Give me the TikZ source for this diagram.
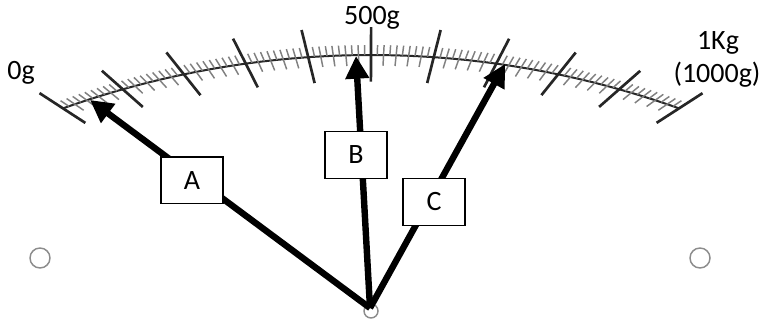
\documentclass[tikz,border=0pt]{standalone}
\usepackage{fontspec}
\setmainfont{Carlito}
\usetikzlibrary{calc,arrows.meta}
\begin{document}
\begin{tikzpicture}[x=0.75pt,y=-0.75pt,
  lbl/.style={font=\fontsize{21}{24}\selectfont, inner sep=0pt, anchor=base},
  box/.style={draw=black, line width=1pt, fill=white, minimum width=46.5pt, minimum height=35pt, inner sep=0pt, font=\fontsize{21}{24}\selectfont},
  pointer/.style={line width=4.8pt, -{Triangle[length=17pt,width=17pt]}},
  major/.style={line width=2pt, draw=black!85},
  minor/.style={line width=1.1pt, draw=black!50},
  hole/.style={draw=black!45, line width=1.1pt}]
\useasboundingbox (0,0) rectangle (768,320);
\coordinate (O) at (370,308);
% scale arc
\draw[line width=1.5pt, black!85] plot[domain=-19.65:19.65, samples=90] ({371+916*sin(\x)},{971-916*cos(\x)});
% ticks
\foreach \i in {0,...,100}{
  \pgfmathsetmacro\a{-19.65+0.393*\i}
  \coordinate (P) at ({371+916*sin(\a)},{971-916*cos(\a)});
  \pgfmathtruncatemacro\m{mod(\i,10)}
  \pgfmathtruncatemacro\n{mod(\i,2)}
  \ifnum\m=0
    \draw[major] ($(P)!-21pt!(O)$) -- ($(P)!20pt!(O)$);
  \else
    \draw[minor] (P) -- ($(P)!-7.5pt!(O)$);
    \ifnum\n=0 \draw[minor] (P) -- ($(P)!8pt!(O)$); \fi
  \fi
}
% labels
\node[lbl] (l0) at (21,80) {0g};
\node[lbl] (l500) at (372,25) {500g};
\node[lbl] (l1k) at (718,50) {1Kg};
\node[lbl] (l1000) at (717,83) {(1000g)};
% holes
\draw[hole] (40,258) circle[radius=10];
\draw[hole] (700,258) circle[radius=10];
\draw[hole] (371,311) circle[radius=7];
% pointers
\coordinate (tA) at (90,100);
\coordinate (tB) at (356,56);
\coordinate (tC) at (505,64);
\draw[pointer] (O) -- (tA);
\draw[pointer] (O) -- (tB);
\draw[pointer] (O) -- (tC);
% boxes
\node[box] (A) at (192,180.5) {A};
\node[box] (B) at (356,155) {B};
\node[box] (C) at (434,202) {C};
\end{tikzpicture}
\end{document}
